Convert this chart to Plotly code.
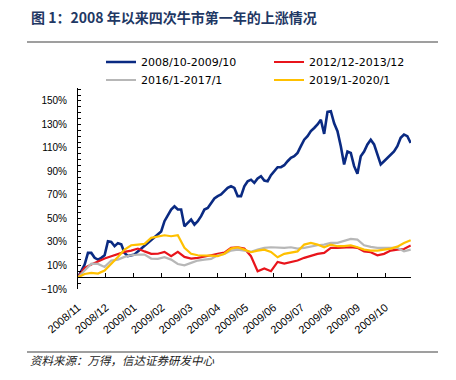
import plotly.graph_objects as go

# ---------------- data (cumulative gain, %) ----------------
month_labels = ["2008/11", "2008/12", "2009/01", "2009/02", "2009/03", "2009/04",
                "2009/05", "2009/06", "2009/07", "2009/08", "2009/09", "2009/10"]

series_names = ["2008/10-2009/10", "2012/12-2013/12", "2016/1-2017/1", "2019/1-2020/1"]

# 2008/10-2009/10, sampled every step
bull_2008 = [0, 5, 10.8, 20.7, 20.7, 16.5, 15, 16.5, 18.7, 30.6,
             30, 26.4, 29, 28, 20.7, 18, 18.4, 19.3, 22, 24.4,
             26.4, 29.2, 32, 34, 36.3, 39, 47.7, 53.3, 57.6, 60.4,
             57.6, 57.6, 43.4, 46.2, 49, 44.8, 47.7, 52, 57.6, 59,
             63.3, 67, 69, 70.4, 73.2, 76, 77.4, 76, 69, 69,
             77.4, 81.7, 83, 80.3, 84, 86, 82.3, 81.7, 86.8, 90.2,
             93.6, 93.6, 95.3, 98.7, 101.6, 103, 105.8, 111.5, 117, 120,
             124.3, 127, 130, 134, 122, 140.7, 141.3, 131, 124.3, 111.5,
             96, 107, 105.8, 94.5, 88, 103, 107, 113, 117, 113,
             104.4, 96, 98.7, 101.6, 104.4, 107, 111.5, 118.6, 121.4, 120,
             114.3]

# the other three periods, sampled every second step
bull_2012 = [0, 8, 10.8, 13.6, 15.9, 17.9, 19.9, 21.6, 22.7, 24.4,
             22, 19.9, 20, 21.6, 17.9, 21.6, 17.3, 15.9, 16.5, 17.9,
             18.7, 19.9, 21, 25, 25.5, 24.4, 17.9, 5.1, 7.4, 5.1,
             13, 11.6, 13, 14.2, 16.5, 18.4, 19.9, 20.7, 25, 25,
             25.5, 25.5, 25, 22, 21.3, 18.7, 19.9, 22.7, 23.5, 24, 27]

bull_2016 = [0, 6, 11.6, 11.3, 8.8, 14.2, 15, 17.3, 18.7, 19.3,
             19.3, 15.9, 15.6, 17, 15, 11.3, 10.2, 12.2, 14.2, 15,
             15.6, 18.7, 19.9, 22.7, 23.5, 22.7, 21.6, 23.5, 25, 25.5,
             25, 25, 25.5, 24.4, 25, 26.4, 27.2, 27.8, 29.2, 29.2,
             30.6, 32.6, 32, 27.2, 25.8, 25, 25, 25, 25, 22, 23.5]

bull_2019 = [0, 2.8, 3.7, 3.1, 5.7, 11.3, 17.3, 23.5, 27.2, 27.8,
             28.4, 33.5, 34.3, 35.7, 34.9, 35.7, 25, 19.9, 18.7, 18.7,
             18.4, 17.9, 20, 24.4, 25.5, 23.5, 21.3, 22.7, 23.5, 21.6,
             17, 19.9, 20.7, 22, 27.8, 29.2, 27.8, 25.5, 27.8, 26.4,
             26.4, 27.2, 25.5, 23.5, 22.7, 22.7, 23.5, 24.4, 26, 29.2, 31.5]

colors = ["#0A2A82", "#E8141B", "#B7B7B7", "#FFC000"]
widths = [2.6, 2.2, 2.2, 2.2]

# ---------------- layout helpers ----------------
# the page body adds an 8px margin, so the figure is drawn 8px smaller and
# every screen position below is given in screenshot pixels minus that offset
OFF = 8
W, H = 456 - OFF, 380 - OFF
ML, MT = 78 - OFF, 88 - OFF
PW, PH = 333, 201
MR, MB = W - ML - PW, H - MT - PH


def px_x(x):
    return (x - OFF - ML) / PW


def px_y(y):
    return 1 - (y - OFF - MT) / PH


steps_full = list(range(len(bull_2008)))
steps_half = [2 * i for i in range(len(bull_2012))]
month_step = 8.4  # samples per month
tick_pos = [i * month_step for i in range(len(month_labels))]
y_min, y_max = -10, 161

fig = go.Figure()
data = [(bull_2008, steps_full), (bull_2012, steps_half),
        (bull_2016, steps_half), (bull_2019, steps_half)]
legend_ids = ["legend", "legend2", "legend3", "legend4"]
for (vals, xs), name, c, w, lg in zip(data, series_names, colors, widths, legend_ids):
    fig.add_trace(go.Scatter(x=xs, y=vals, mode="lines", name=name,
                             line=dict(color=c, width=w), legend=lg))

# dummy trace so the zero-line axis is drawn
fig.add_trace(go.Scatter(x=[0], y=[0], xaxis="x2", mode="markers",
                         marker=dict(opacity=0), showlegend=False, hoverinfo="skip"))

x_range = [0, steps_full[-1] + 0.1]
legend_font = dict(family="DejaVu Sans", size=11, color="#000000")
legend_pos = {"legend": (101, 62), "legend2": (269, 62),
              "legend3": (101, 80), "legend4": (269, 80)}

layout_legends = {
    k: dict(x=px_x(x), y=px_y(y), xanchor="left", yanchor="middle",
            orientation="v", bgcolor="rgba(0,0,0,0)", font=legend_font,
            itemwidth=30)
    for k, (x, y) in legend_pos.items()
}

fig.update_layout(
    width=W, height=H,
    margin=dict(l=ML, r=MR, t=MT, b=MB),
    paper_bgcolor="white", plot_bgcolor="white",
    showlegend=True,
    xaxis=dict(range=x_range, tickvals=tick_pos, ticktext=month_labels,
               tickangle=-40, showline=False, ticks="", showgrid=False,
               zeroline=False, ticklabelstandoff=9,
               tickfont=dict(family="Liberation Sans", size=11, color="#000000")),
    xaxis2=dict(range=x_range, overlaying="x", anchor="free",
                position=(0 - y_min) / (y_max - y_min),
                tickvals=tick_pos + [steps_full[-1]], showticklabels=False,
                showline=True, linecolor="#000000", linewidth=1,
                ticks="inside", ticklen=4, tickcolor="#000000", tickwidth=1,
                showgrid=False, zeroline=False),
    yaxis=dict(range=[y_min, y_max], tick0=-10, dtick=20, ticksuffix="%",
               showline=True, linecolor="#000000", linewidth=1,
               ticks="inside", ticklen=3, tickcolor="#000000",
               minor=dict(dtick=5, tick0=0, ticks="inside", ticklen=3, tickcolor="#000000"),
               showgrid=False, zeroline=False, ticklabelstandoff=8,
               tickfont=dict(family="Liberation Sans", size=10, color="#000000")),
    annotations=[
        dict(text="<b>图 1：2008 年以来四次牛市第一年的上涨情况</b>",
             x=px_x(29), y=px_y(17), xref="paper", yref="paper",
             xanchor="left", yanchor="middle", showarrow=False,
             font=dict(family="Noto Sans CJK SC", size=14, color="#1F3864")),
        dict(text="资料来源：万得，信达证券研发中心",
             x=px_x(28), y=px_y(360), xref="paper", yref="paper",
             xanchor="left", yanchor="middle", showarrow=False,
             font=dict(family="Noto Sans CJK SC", size=11.5, color="#222222",
                       style="italic")),
    ],
    shapes=[
        dict(type="line", xref="paper", yref="paper",
             x0=px_x(27), x1=px_x(438), y0=px_y(42), y1=px_y(42),
             line=dict(color="#7F7F7F", width=1.5)),
        dict(type="line", xref="paper", yref="paper",
             x0=px_x(27), x1=px_x(438), y0=px_y(352), y1=px_y(352),
             line=dict(color="#7F7F7F", width=1.5)),
    ],
    **layout_legends,
)

fig.write_html("out.html")
